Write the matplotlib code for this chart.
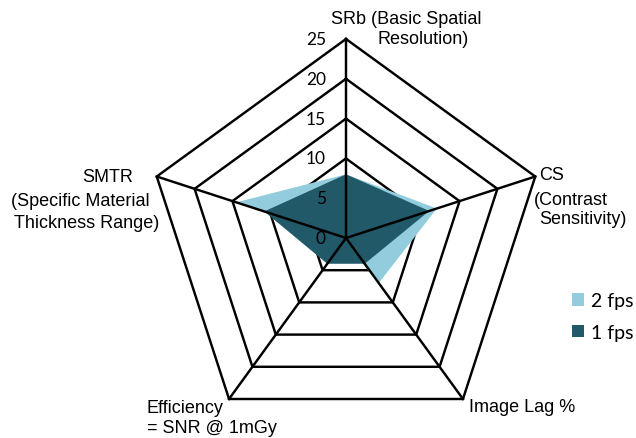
import numpy as np
import matplotlib
matplotlib.use('Agg')
import matplotlib.pyplot as plt

# ---- data ----
categories = ['SRb (Basic Spatial Resolution)', 'CS (Contrast Sensitivity)',
              'Image Lag %', 'Efficiency = SNR @ 1mGy',
              'SMTR (Specific Material Thickness Range)']
fps2 = [8, 12, 7, 0.5, 14.5]
fps1 = [8, 11, 4, 4, 10.8]
ring_values = [0, 5, 10, 15, 20, 25]
tick_labels = ['0', '5', '10', '15', '20', '25']
series_names = ['2 fps', '1 fps']
series_colors = ['#93CDDD', '#215968']

W, H = 636, 439
fig = plt.figure(figsize=(W / 100, H / 100), dpi=100)
cx, cy, R = 346, 239, 199
ax = fig.add_axes([(cx - R) / W, (H - cy - R) / H, 2 * R / W, 2 * R / H],
                  projection='polar')
ax.set_theta_offset(np.pi / 2)
ax.set_theta_direction(-1)
ax.set_ylim(0, ring_values[-1])
ax.set_axis_off()

n = len(categories)
theta = np.arange(n) * 2 * np.pi / n
theta_c = np.append(theta, theta[0])

# rings (under fills)
for r in ring_values[1:]:
    ax.plot(theta_c, [r] * (n + 1), color='black', lw=1.75, zorder=1,
            clip_on=False, solid_joinstyle='miter')

# series fills
for vals, name, col in zip([fps2, fps1], series_names, series_colors):
    v = np.append(vals, vals[0])
    ax.fill(theta_c, v, color=col, lw=0, zorder=2, label=name)

# spokes (on top)
for t in theta:
    ax.plot([t, t], [0, ring_values[-1]], color='black', lw=1.75, zorder=3,
            clip_on=False)

# radial tick labels
for r, lab in zip(ring_values, tick_labels):
    ax.annotate(lab, xy=(0, r), xytext=(-20, 0), textcoords='offset pixels',
                ha='right', va='center', fontsize=12.5, family='Lato',
                color='black', annotation_clip=False)

# category labels (line by line, pixel positions from top-left)
lab_lines = [
    ('SRb (Basic Spatial', 406, 24, 'center'),
    ('Resolution)', 423, 44, 'center'),
    ('CS', 552, 180, 'center'),
    ('(Contrast', 571, 205, 'center'),
    ('Sensitivity)', 583, 224, 'center'),
    ('SMTR', 108, 182, 'center'),
    ('(Specific Material', 80, 206, 'center'),
    ('Thickness Range)', 87, 228, 'center'),
    ('Efficiency', 147, 413, 'left'),
    ('= SNR @ 1mGy', 147, 433, 'left'),
    ('Image Lag %', 522, 412, 'center'),
]
for txt, x, y, ha in lab_lines:
    fig.text(x / W, 1 - y / H, txt, ha=ha, va='baseline', fontsize=13,
             family='Liberation Sans', color='black')

leg = fig.legend(loc='center left', bbox_to_anchor=(572 / W, 1 - 317.5 / H),
                 frameon=False, prop={'family': 'Lato', 'size': 14},
                 handlelength=0.6, handleheight=0.6, handletextpad=0.4,
                 labelspacing=0.75, borderpad=0, borderaxespad=0)

fig.savefig('out.png', dpi=100)
